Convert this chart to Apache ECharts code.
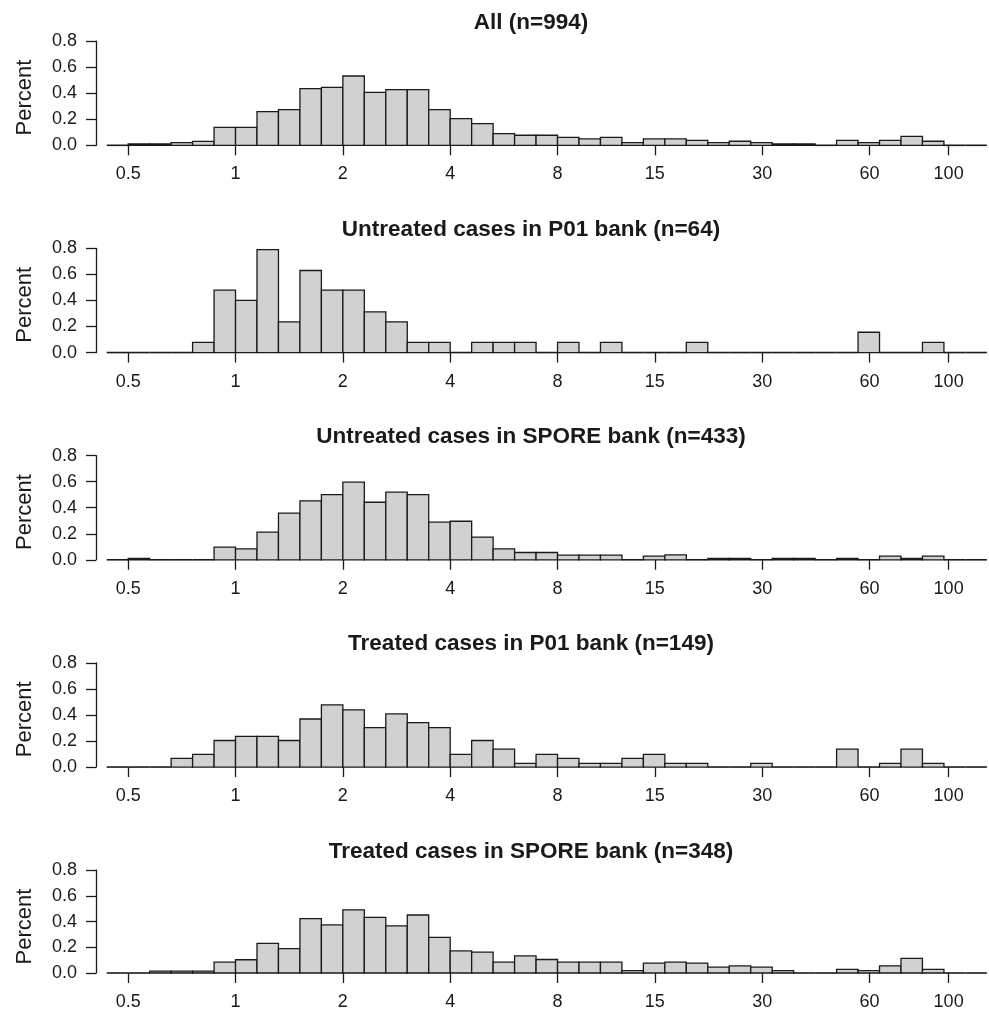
<!DOCTYPE html>
<html><head><meta charset="utf-8">
<script src="https://cdn.jsdelivr.net/npm/echarts@6/dist/echarts.min.js"></script>
<style>html,body{margin:0;padding:0;background:#fff}#chart{width:989px;height:1011px}</style>
</head><body><div id="chart"></div>
<script>
// ---- data ----
const panelTitles = [
  'All (n=994)',
  'Untreated cases in P01 bank (n=64)',
  'Untreated cases in SPORE bank (n=433)',
  'Treated cases in P01 bank (n=149)',
  'Treated cases in SPORE bank (n=348)'
];
const xTickValues = [0.5, 1, 2, 4, 8, 15, 30, 60, 100];
const xTickLabels = ['0.5', '1', '2', '4', '8', '15', '30', '60', '100'];
const yTickLabels = ['0.0', '0.2', '0.4', '0.6', '0.8'];
const yAxisTitle = 'Percent';
// histogram bins: equal width on a log2 scale, from 2^-1.2 to 2^7 (41 bins)
const binStartLog2 = -1.2;
const binWidthLog2 = 0.2;

const allPct = [0, 0.01, 0.01, 0.02, 0.03, 0.138, 0.138, 0.258, 0.274, 0.435, 0.445, 0.532, 0.407, 0.427, 0.427, 0.274, 0.205, 0.166, 0.09, 0.077, 0.077, 0.061, 0.049, 0.061, 0.02, 0.049, 0.049, 0.038, 0.02, 0.031, 0.02, 0.01, 0.01, 0, 0.038, 0.02, 0.038, 0.069, 0.031, 0, 0];
const untreatedP01Pct = [0, 0, 0, 0, 0.078, 0.48, 0.40, 0.79, 0.236, 0.63, 0.48, 0.48, 0.312, 0.236, 0.078, 0.078, 0, 0.078, 0.078, 0.078, 0, 0.078, 0, 0.078, 0, 0, 0, 0.078, 0, 0, 0, 0, 0, 0, 0, 0.156, 0, 0, 0.078, 0, 0];
const untreatedSporePct = [0, 0.01, 0, 0, 0, 0.097, 0.084, 0.212, 0.358, 0.452, 0.501, 0.596, 0.442, 0.519, 0.501, 0.289, 0.296, 0.174, 0.084, 0.056, 0.056, 0.036, 0.036, 0.036, 0, 0.028, 0.038, 0, 0.01, 0.01, 0, 0.01, 0.01, 0, 0.01, 0, 0.028, 0.01, 0.028, 0, 0];
const treatedP01Pct = [0, 0, 0, 0.067, 0.098, 0.204, 0.235, 0.235, 0.204, 0.369, 0.477, 0.439, 0.302, 0.408, 0.341, 0.302, 0.098, 0.204, 0.137, 0.028, 0.098, 0.067, 0.028, 0.028, 0.067, 0.098, 0.028, 0.028, 0, 0, 0.028, 0, 0, 0, 0.137, 0, 0.028, 0.137, 0.028, 0, 0];
const treatedSporePct = [0, 0, 0.015, 0.015, 0.015, 0.085, 0.103, 0.231, 0.19, 0.423, 0.374, 0.49, 0.433, 0.367, 0.451, 0.277, 0.172, 0.162, 0.085, 0.133, 0.105, 0.085, 0.085, 0.085, 0.018, 0.077, 0.085, 0.077, 0.046, 0.056, 0.046, 0.018, 0, 0, 0.028, 0.018, 0.056, 0.113, 0.028, 0, 0];

const panelValues = [allPct, untreatedP01Pct, untreatedSporePct, treatedP01Pct, treatedSporePct];

// ---- layout / style ----
const FONT = '"Liberation Sans", Arial, Helvetica, sans-serif';
const INK = '#1a1a1a';
const FILL = '#d0d1d0';
const BASE0 = 145.3;      // y pixel of 0.0 in first panel
const STEP = 207.25;      // vertical distance between panels
const PLOT_H = 104.2;     // 0.0 -> 0.8 height
const GRID_LEFT = 96;
const X_MIN = -1.3, X_MAX = 7.02;

const xTickLog = xTickValues.map(v => Math.log2(v));
function xLabel(v) {
  let best = 0, bd = Infinity;
  xTickLog.forEach((t, i) => { const d = Math.abs(t - v); if (d < bd) { bd = d; best = i; } });
  return xTickLabels[best];
}

const grids = [], xAxes = [], yAxes = [], series = [], graphics = [];
panelValues.forEach((vals, i) => {
  const base = BASE0 + STEP * i;
  grids.push({ left: GRID_LEFT, right: 0, top: base - PLOT_H, height: PLOT_H, containLabel: false });
  xAxes.push({
    gridIndex: i, type: 'value', min: X_MIN, max: X_MAX,
    axisLine: { show: false, onZero: false }, splitLine: { show: false },
    axisTick: { show: true, customValues: xTickLog, length: 10, inside: false, lineStyle: { color: INK, width: 1.3 } },
    axisLabel: { customValues: xTickLog, margin: 20, fontSize: 18, color: INK, fontFamily: FONT, formatter: v => xLabel(v) }
  });
  yAxes.push({
    gridIndex: i, type: 'value', min: 0, max: 0.8, interval: 0.2,
    axisLine: { show: true, onZero: false, lineStyle: { color: INK, width: 1.3 } },
    axisTick: { show: true, length: 10, lineStyle: { color: INK, width: 1.3 } },
    splitLine: { show: false },
    axisLabel: { margin: 19, fontSize: 18, color: INK, fontFamily: FONT, formatter: v => yTickLabels[Math.round(v / 0.2)] }
  });
  series.push({
    type: 'custom', xAxisIndex: i, yAxisIndex: i, silent: true, animation: false,
    data: vals.map((v, k) => [binStartLog2 + k * binWidthLog2, binStartLog2 + (k + 1) * binWidthLog2, v]),
    encode: { x: [0, 1], y: 2 },
    renderItem: function (params, api) {
      const a = api.coord([api.value(0), api.value(2)]);
      const b = api.coord([api.value(1), 0]);
      if (api.value(2) <= 0) {
        return { type: 'line', shape: { x1: a[0], y1: b[1], x2: b[0], y2: b[1] }, style: { stroke: INK, lineWidth: 1.6 } };
      }
      return { type: 'rect', shape: { x: a[0], y: a[1], width: b[0] - a[0], height: b[1] - a[1] },
        style: { fill: FILL, stroke: INK, lineWidth: 1.3 } };
    }
  });
  graphics.push({
    type: 'text', x: 531, y: 22.3 + STEP * i,
    style: { text: panelTitles[i], fill: INK, font: 'bold 22.5px ' + FONT, textAlign: 'center', textVerticalAlign: 'middle' }
  });
  graphics.push({
    type: 'text', x: 25, y: base - 47.8, rotation: Math.PI / 2,
    style: { text: yAxisTitle, fill: INK, font: '22px ' + FONT, textAlign: 'center', textVerticalAlign: 'middle' }
  });
});

const chart = echarts.init(document.getElementById('chart'), null, { renderer: 'canvas' });
chart.setOption({
  animation: false,
  backgroundColor: '#ffffff',
  grid: grids, xAxis: xAxes, yAxis: yAxes, series: series, graphic: graphics
});
</script></body></html>
